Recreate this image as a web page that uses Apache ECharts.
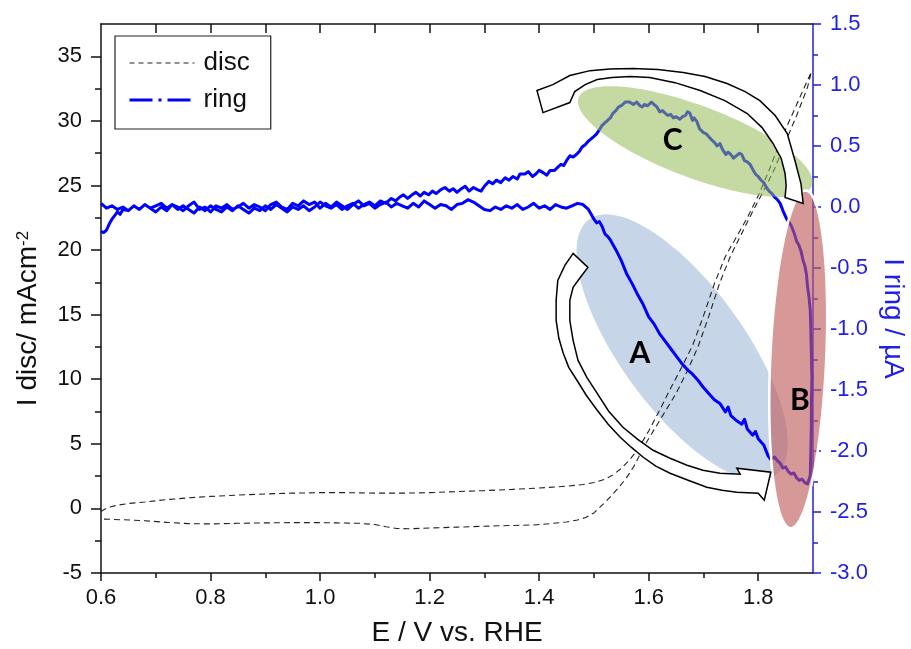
<!DOCTYPE html>
<html><head><meta charset="utf-8">
<script src="https://cdn.jsdelivr.net/npm/echarts@6/dist/echarts.min.js"></script>
<style>html,body{margin:0;padding:0;background:#fff}#chart{width:911px;height:649px}</style>
</head><body><div id="chart"></div>
<script>
// ---- data: disc current (mA cm^-2) vs E (V vs RHE) ----
const discForward = [[0.600,-0.25],[0.605,-0.10],[0.615,0.10],[0.63,0.25],[0.65,0.38],[0.68,0.50],[0.72,0.68],[0.76,0.82],[0.80,0.93],[0.85,1.03],[0.90,1.12],[0.95,1.18],[1.00,1.22],[1.05,1.22],[1.10,1.18],[1.15,1.18],[1.20,1.22],[1.25,1.30],[1.30,1.38],[1.35,1.47],[1.40,1.58],[1.45,1.72],[1.48,1.85],[1.50,2.00],[1.52,2.25],[1.535,2.60],[1.55,3.10],[1.565,3.75],[1.58,4.55],[1.60,6.0],[1.62,7.6],[1.64,9.3],[1.66,10.9],[1.68,12.6],[1.70,14.9],[1.72,17.4],[1.74,19.5],[1.76,21.0],[1.78,22.5],[1.80,24.2],[1.82,26.2],[1.84,28.4],[1.86,30.3],[1.88,32.2],[1.897,33.8]];
const discReverse = [[1.897,33.8],[1.89,32.6],[1.87,30.4],[1.85,28.4],[1.83,26.3],[1.81,24.6],[1.79,23.0],[1.77,21.3],[1.75,19.6],[1.73,17.5],[1.71,14.9],[1.69,12.5],[1.67,10.6],[1.65,8.9],[1.63,7.5],[1.61,6.1],[1.59,4.7],[1.575,3.4],[1.56,2.4],[1.545,1.6],[1.53,0.9],[1.515,0.25],[1.50,-0.35],[1.485,-0.70],[1.47,-0.90],[1.45,-1.05],[1.42,-1.18],[1.39,-1.28],[1.35,-1.32],[1.30,-1.38],[1.25,-1.45],[1.20,-1.52],[1.16,-1.58],[1.14,-1.55],[1.12,-1.42],[1.10,-1.25],[1.07,-1.15],[1.03,-1.12],[1.00,-1.10],[0.95,-1.10],[0.90,-1.12],[0.85,-1.15],[0.80,-1.20],[0.76,-1.18],[0.72,-1.08],[0.68,-0.95],[0.64,-0.88],[0.60,-0.82]];

// ---- data: ring current (uA) vs E ----
const ringForward = [[0.600,-0.20],[0.605,-0.21],[0.610,-0.19],[0.615,-0.14],[0.620,-0.10],[0.625,-0.07],[0.630,-0.04],[0.635,-0.06],[0.640,-0.02],[0.650,-0.03],[0.660,0.01],[0.670,-0.02],[0.680,0.02],[0.690,-0.01],[0.700,0.01],[0.710,0.03],[0.720,-0.01],[0.730,0.02],[0.740,0.00],[0.750,-0.03],[0.760,0.01],[0.770,0.04],[0.780,-0.02],[0.790,0.00],[0.800,-0.04],[0.810,0.01],[0.820,-0.01],[0.830,0.02],[0.840,-0.02],[0.850,0.00],[0.860,0.03],[0.870,-0.01],[0.880,0.02],[0.890,0.00],[0.900,-0.03],[0.910,0.02],[0.920,0.04],[0.930,0.00],[0.940,-0.02],[0.950,0.03],[0.960,0.01],[0.970,0.05],[0.980,0.02],[0.990,0.04],[1.000,-0.01],[1.010,0.03],[1.020,0.00],[1.030,0.04],[1.040,0.01],[1.050,-0.02],[1.060,0.02],[1.070,0.05],[1.080,0.01],[1.090,0.03],[1.100,-0.01],[1.110,0.02],[1.120,0.04],[1.130,0.00],[1.140,0.03],[1.150,0.01],[1.160,-0.01],[1.170,0.03],[1.180,0.00],[1.190,0.05],[1.200,0.02],[1.210,-0.01],[1.220,0.02],[1.230,0.01],[1.240,-0.02],[1.250,0.02],[1.260,0.03],[1.270,0.06],[1.280,0.04],[1.290,0.01],[1.300,-0.02],[1.310,-0.03],[1.320,0.00],[1.330,-0.02],[1.340,0.01],[1.350,-0.01],[1.360,0.02],[1.370,-0.02],[1.380,0.00],[1.390,0.03],[1.400,-0.01],[1.410,0.01],[1.420,-0.02],[1.430,0.02],[1.440,0.00],[1.450,-0.01],[1.460,0.01],[1.470,0.03],[1.480,0.02],[1.490,-0.02],[1.495,-0.06],[1.500,-0.10],[1.505,-0.13],[1.510,-0.12],[1.515,-0.16],[1.520,-0.22],[1.525,-0.24],[1.530,-0.27],[1.540,-0.35],[1.550,-0.44],[1.560,-0.55],[1.570,-0.63],[1.580,-0.72],[1.590,-0.80],[1.600,-0.90],[1.610,-0.96],[1.620,-1.04],[1.630,-1.10],[1.640,-1.16],[1.650,-1.22],[1.660,-1.28],[1.670,-1.33],[1.680,-1.37],[1.690,-1.42],[1.700,-1.48],[1.710,-1.53],[1.720,-1.58],[1.730,-1.61],[1.740,-1.68],[1.745,-1.64],[1.750,-1.71],[1.760,-1.75],[1.770,-1.78],[1.775,-1.74],[1.780,-1.82],[1.790,-1.87],[1.795,-1.84],[1.800,-1.90],[1.810,-1.95],[1.818,-2.04],[1.823,-2.07],[1.830,-2.05],[1.835,-2.08],[1.840,-2.10],[1.845,-2.14],[1.850,-2.13],[1.855,-2.17],[1.860,-2.19],[1.865,-2.18],[1.870,-2.22],[1.875,-2.24],[1.880,-2.23],[1.885,-2.26],[1.890,-2.27],[1.893,-2.26]];
const ringReverse = [[1.895,-2.20],[1.896,-2.00],[1.897,-1.80],[1.897,-1.60],[1.898,-1.40],[1.897,-1.20],[1.896,-1.00],[1.895,-0.85],[1.893,-0.75],[1.890,-0.65],[1.888,-0.55],[1.885,-0.48],[1.882,-0.44],[1.878,-0.36],[1.874,-0.31],[1.870,-0.28],[1.866,-0.22],[1.861,-0.16],[1.856,-0.12],[1.852,-0.10],[1.846,-0.04],[1.840,0.03],[1.835,0.06],[1.830,0.08],[1.825,0.11],[1.820,0.13],[1.815,0.16],[1.810,0.20],[1.805,0.22],[1.800,0.25],[1.795,0.27],[1.791,0.30],[1.785,0.35],[1.780,0.37],[1.775,0.38],[1.770,0.43],[1.766,0.44],[1.760,0.42],[1.755,0.40],[1.750,0.43],[1.745,0.45],[1.741,0.43],[1.735,0.47],[1.730,0.52],[1.725,0.50],[1.720,0.53],[1.715,0.55],[1.711,0.57],[1.705,0.60],[1.700,0.61],[1.693,0.64],[1.688,0.70],[1.683,0.73],[1.680,0.71],[1.675,0.77],[1.671,0.78],[1.667,0.75],[1.662,0.74],[1.657,0.72],[1.650,0.74],[1.645,0.73],[1.640,0.76],[1.635,0.75],[1.630,0.77],[1.625,0.79],[1.620,0.78],[1.615,0.82],[1.610,0.84],[1.605,0.86],[1.602,0.86],[1.598,0.83],[1.592,0.84],[1.588,0.82],[1.584,0.83],[1.578,0.86],[1.572,0.84],[1.565,0.86],[1.557,0.86],[1.550,0.83],[1.545,0.82],[1.540,0.79],[1.535,0.77],[1.530,0.73],[1.525,0.71],[1.520,0.69],[1.515,0.67],[1.511,0.64],[1.505,0.60],[1.498,0.57],[1.490,0.54],[1.484,0.51],[1.478,0.49],[1.474,0.46],[1.468,0.43],[1.462,0.41],[1.456,0.42],[1.450,0.38],[1.445,0.34],[1.440,0.35],[1.435,0.33],[1.428,0.30],[1.420,0.30],[1.414,0.26],[1.408,0.28],[1.400,0.30],[1.394,0.27],[1.388,0.25],[1.380,0.29],[1.374,0.27],[1.365,0.27],[1.360,0.23],[1.352,0.25],[1.345,0.22],[1.338,0.24],[1.330,0.20],[1.322,0.22],[1.315,0.19],[1.308,0.21],[1.300,0.17],[1.294,0.13],[1.288,0.14],[1.280,0.16],[1.272,0.13],[1.265,0.17],[1.258,0.15],[1.250,0.12],[1.243,0.15],[1.236,0.13],[1.228,0.16],[1.220,0.14],[1.212,0.11],[1.205,0.13],[1.198,0.10],[1.190,0.12],[1.183,0.09],[1.175,0.12],[1.168,0.10],[1.160,0.07],[1.152,0.10],[1.145,0.08],[1.138,0.05],[1.130,0.07],[1.120,0.03],[1.110,0.05],[1.100,0.01],[1.090,0.04],[1.080,0.02],[1.070,-0.01],[1.060,0.03],[1.050,0.01],[1.040,-0.02],[1.030,0.02],[1.020,-0.01],[1.010,0.01],[1.000,0.04],[0.990,0.00],[0.980,-0.03],[0.970,0.01],[0.960,-0.02],[0.950,0.00],[0.940,-0.04],[0.930,-0.01],[0.920,0.02],[0.910,-0.02],[0.900,0.01],[0.890,-0.03],[0.880,-0.01],[0.870,-0.05],[0.860,-0.02],[0.850,0.01],[0.840,-0.03],[0.830,0.00],[0.820,-0.04],[0.810,-0.02],[0.800,0.01],[0.790,-0.03],[0.780,0.00],[0.770,-0.05],[0.760,-0.02],[0.750,0.01],[0.740,-0.02],[0.730,0.02],[0.720,-0.03],[0.710,0.00],[0.700,-0.04],[0.690,-0.01],[0.680,0.02],[0.670,-0.02],[0.660,0.01],[0.650,-0.03],[0.640,0.00],[0.630,-0.02],[0.620,0.01],[0.610,-0.01],[0.600,0.03]];

// ---- ticks ----
const xMajorTicks = [0.6,0.8,1.0,1.2,1.4,1.6,1.8];
const xMinorTicks = [0.7,0.9,1.1,1.3,1.5,1.7];
const xTopTicks = [0.7,0.8,0.9,1.0,1.1,1.2,1.3,1.4,1.5,1.6,1.7,1.8];
const discTicks = [-5,0,5,10,15,20,25,30,35];
const discMinorTicks = [-2.5,2.5,7.5,12.5,17.5,22.5,27.5,32.5];

// ---- annotations in data space (E, disc): centre, end of axis 1, end of axis 2 ----
const regionA = [1.661,12.47, 1.831,2.57, 1.752,15.29];
const regionB = [1.873,11.54, 1.887,24.61, 1.924,11.44];
const regionC = [1.685,28.40, 1.898,25.00, 1.708,31.01];
const arrowC = [[1.882,23.61],[1.878,25.15],[1.867,26.93],[1.853,29.02],[1.831,30.41],[1.803,31.57],[1.776,32.27],[1.743,32.89],[1.703,33.43],[1.663,33.74],[1.617,33.97],[1.571,34.05],[1.529,34.01],[1.493,33.89],[1.456,33.51],[1.425,32.81],[1.396,32.35],[1.407,30.64],[1.456,31.42],[1.465,32.27],[1.484,32.81],[1.506,33.20],[1.533,33.35],[1.566,33.43],[1.602,33.35],[1.648,32.96],[1.694,32.35],[1.739,31.57],[1.780,30.57],[1.807,29.48],[1.827,28.25],[1.842,27.09],[1.849,25.93],[1.851,25.00],[1.849,24.07]];
const arrowA = [[1.462,19.74],[1.447,18.81],[1.434,17.65],[1.431,16.10],[1.431,14.56],[1.436,13.17],[1.444,12.01],[1.454,10.92],[1.469,9.92],[1.486,8.76],[1.506,7.60],[1.526,6.51],[1.548,5.51],[1.568,4.74],[1.590,3.96],[1.613,3.27],[1.639,2.72],[1.672,2.18],[1.706,1.64],[1.734,1.41],[1.761,1.25],[1.800,1.18],[1.811,0.64],[1.823,2.80],[1.761,3.11],[1.767,2.65],[1.730,2.72],[1.699,2.96],[1.670,3.34],[1.639,3.88],[1.608,4.50],[1.580,5.35],[1.553,6.28],[1.527,7.52],[1.506,8.91],[1.487,10.15],[1.471,11.46],[1.462,13.01],[1.456,14.56],[1.456,16.10],[1.462,17.11],[1.475,17.88],[1.489,18.66]];
const regionLabels = [['A',1.584,12.0],['B',1.876,8.4],['C',1.644,28.5]];

const FONT = 'Liberation Sans, Arial, sans-serif';
const BLUE = '#1f1fe6';

function ellipseRender(params, api) {
  const c = api.coord([api.value(0), api.value(1)]);
  const m = api.coord([api.value(2), api.value(3)]);
  const n = api.coord([api.value(4), api.value(5)]);
  const pts = [];
  for (let k = 0; k < 120; k++) {
    const t = k / 120 * Math.PI * 2, ct = Math.cos(t), st = Math.sin(t);
    pts.push([c[0] + ct * (m[0] - c[0]) + st * (n[0] - c[0]), c[1] + ct * (m[1] - c[1]) + st * (n[1] - c[1])]);
  }
  return { type: 'polygon', shape: { points: pts } };
}
function ellipseSeries(region, fill, stroke, lw, z) {
  return {
    type: 'custom', xAxisIndex: 0, yAxisIndex: 0, z: z, clip: false, silent: true,
    data: [region], renderItem: function (p, api) {
      const el = ellipseRender(p, api);
      el.style = { fill: fill, stroke: stroke, lineWidth: lw };
      return el;
    }
  };
}
const arrowShapes = [arrowC, arrowA];
const arrowSeries = {
  type: 'custom', xAxisIndex: 0, yAxisIndex: 0, z: 6, clip: false, silent: true,
  data: arrowShapes.map((s, i) => [s[0][0], s[0][1], i]),
  renderItem: function (params, api) {
    const shape = arrowShapes[api.value(2)];
    const pts = shape.map(p => api.coord(p));
    return { type: 'polygon', shape: { points: pts }, style: { fill: '#fff', stroke: '#000', lineWidth: 1.5 } };
  }
};
const labelSeries = {
  type: 'custom', xAxisIndex: 0, yAxisIndex: 0, z: 7, clip: false, silent: true,
  data: regionLabels.map((d, i) => [d[1], d[2], i]),
  renderItem: function (params, api) {
    const p = api.coord([api.value(0), api.value(1)]);
    return { type: 'text', x: p[0], y: p[1], style: { text: regionLabels[api.value(2)][0], fontSize: 30, fontWeight: 'bold', fontFamily: 'Lato, Open Sans, sans-serif', fill: '#000', align: 'center', verticalAlign: 'middle' } };
  }
};

const chart = echarts.init(document.getElementById('chart'));
chart.setOption({
  animation: false,
  backgroundColor: '#fff',
  grid: { left: 101, right: 98, top: 24, bottom: 76, outerBoundsMode: 'none' },
  legend: {
    left: 115, top: 36, orient: 'vertical', padding: [14, 21, 16, 13],
    itemWidth: 65, itemHeight: 14, itemGap: 11,
    borderColor: '#222', borderWidth: 1.2, borderRadius: 0, backgroundColor: '#fff',
    textStyle: { fontSize: 26, fontFamily: FONT, color: '#111', padding: [0, 0, 0, 4] },
    itemStyle: { opacity: 0 },
    data: [
      { name: 'disc', itemStyle: { opacity: 0 }, lineStyle: { type: [5, 4], width: 1, color: '#222' } },
      { name: 'ring', itemStyle: { opacity: 0 }, lineStyle: { type: [23, 6, 3, 6], width: 3, color: '#0000ff' } }
    ]
  },
  xAxis: [
    {
      type: 'value', min: 0.6, max: 1.9, position: 'bottom',
      axisLine: { onZero: false, lineStyle: { color: '#111', width: 1.5 } },
      axisTick: { show: true, inside: false, length: 8, customValues: xMajorTicks, lineStyle: { color: '#111', width: 1.5 } },
      axisLabel: { customValues: xMajorTicks, formatter: v => v.toFixed(1), fontSize: 22, fontFamily: FONT, color: '#111', margin: 14 },
      splitLine: { show: false },
      name: 'E / V vs. RHE', nameLocation: 'middle', nameGap: 46,
      nameTextStyle: { fontSize: 28, fontFamily: FONT, color: '#111' }
    },
    {
      type: 'value', min: 0.6, max: 1.9, position: 'bottom',
      axisLine: { show: false, onZero: false },
      axisTick: { show: true, inside: false, length: 5, customValues: xMinorTicks, lineStyle: { color: '#111', width: 1.5 } },
      axisLabel: { show: false }, splitLine: { show: false }
    },
    {
      type: 'value', min: 0.6, max: 1.9, position: 'top',
      axisLine: { show: true, onZero: false, lineStyle: { color: '#111', width: 1.5 } },
      axisTick: { show: true, inside: true, length: 9, customValues: xTopTicks, lineStyle: { color: '#111', width: 1.5 } },
      axisLabel: { show: false }, splitLine: { show: false }
    }
  ],
  yAxis: [
    {
      type: 'value', min: -5, max: 37.5, position: 'left',
      axisLine: { show: true, onZero: false, lineStyle: { color: '#111', width: 1.5 } },
      axisTick: { show: true, inside: false, length: 10, customValues: discTicks, lineStyle: { color: '#111', width: 1.5 } },
      axisLabel: { customValues: discTicks, fontSize: 22, fontFamily: FONT, color: '#111', margin: 19 },
      splitLine: { show: false },
      name: '{m|I disc/ mAcm}{s|-2}', nameLocation: 'middle', nameGap: 57,
      nameTextStyle: {
        padding: [0, 40, 0, 0],
        rich: {
          m: { fontSize: 28, fontFamily: FONT, color: '#111', lineHeight: 32 },
          s: { fontSize: 17, fontFamily: FONT, color: '#111', lineHeight: 17, verticalAlign: 'top', padding: [3, 0, 0, 0] }
        }
      }
    },
    {
      type: 'value', min: -3, max: 1.5, interval: 0.5, position: 'right',
      axisLine: { show: true, onZero: false, lineStyle: { color: BLUE, width: 1.5 } },
      axisTick: { show: true, inside: false, length: 8, lineStyle: { color: BLUE, width: 1.5 } },
      minorTick: { show: true, splitNumber: 2, length: 5, lineStyle: { color: BLUE, width: 1.5 } },
      axisLabel: { formatter: v => v.toFixed(1), fontSize: 22, fontFamily: FONT, color: BLUE, margin: 17 },
      splitLine: { show: false }, minorSplitLine: { show: false },
      name: 'I ring / µA', nameLocation: 'middle', nameGap: 62, nameRotate: -90,
      nameTextStyle: { fontSize: 28, fontFamily: FONT, color: BLUE, padding: [0, 0, 0, 40] }
    },
    {
      type: 'value', min: -5, max: 37.5, position: 'left',
      axisLine: { show: false, onZero: false },
      axisTick: { show: true, inside: false, length: 6, customValues: discMinorTicks, lineStyle: { color: '#111', width: 1.5 } },
      axisLabel: { show: false }, splitLine: { show: false }
    }
  ],
  series: [
    ellipseSeries(regionA, '#c7d5e9', null, 0, 1),
    {
      name: 'disc', type: 'line', xAxisIndex: 0, yAxisIndex: 0, z: 2,
      data: discForward.concat(discReverse), showSymbol: false, symbol: 'none',
      lineStyle: { color: '#222', width: 1.1, type: [6, 4] }, itemStyle: { color: '#222' }
    },
    {
      name: 'ring', type: 'line', xAxisIndex: 0, yAxisIndex: 1, z: 3,
      data: ringForward.concat(ringReverse), showSymbol: false, symbol: 'none',
      lineStyle: { color: '#0000ff', width: 3, join: 'round' }, itemStyle: { color: '#0000ff' }
    },
    ellipseSeries(regionC, 'rgba(150,185,85,0.55)', null, 0, 4),
    ellipseSeries(regionB, 'rgba(190,90,88,0.62)', '#ffffff', 2.5, 5),
    arrowSeries,
    labelSeries
  ]
});
</script>
</body></html>
